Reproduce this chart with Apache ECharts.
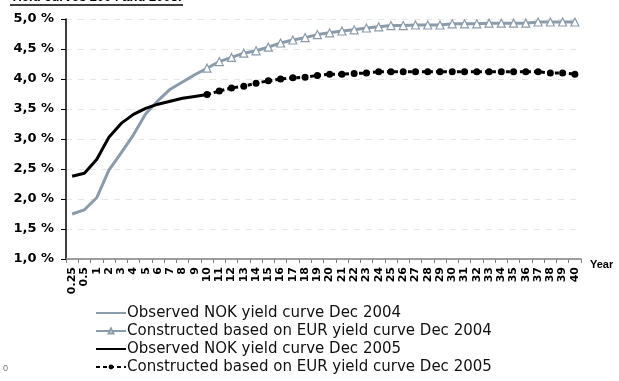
<!DOCTYPE html>
<html>
<head>
<meta charset="utf-8">
<script src="https://cdn.jsdelivr.net/npm/echarts@6/dist/echarts.min.js"></script>
<style>
  html, body { margin: 0; padding: 0; background: #fff; }
  #chart { width: 619px; height: 381px; }
</style>
</head>
<body>
<div id="chart"></div>
<script>
// Maturities (years)
const maturities = ['0.25', '0.5', '1', '2', '3', '4', '5', '6', '7', '8', '9', '10',
  '11', '12', '13', '14', '15', '16', '17', '18', '19', '20', '21', '22', '23', '24', '25',
  '26', '27', '28', '29', '30', '31', '32', '33', '34', '35', '36', '37', '38', '39', '40'];

// Observed NOK yields (%), 0.25y to 10y
const observed2004 = [1.75, 1.82, 2.02, 2.48, 2.77, 3.07, 3.42, 3.64, 3.83, 3.95, 4.07, 4.18];
const observed2005 = [2.38, 2.43, 2.66, 3.03, 3.26, 3.41, 3.51, 3.58, 3.63, 3.68, 3.71, 3.74];

// Constructed from EUR curve (%), 10y to 40y
const constructed2004 = [4.18, 4.29, 4.36, 4.43, 4.47, 4.53, 4.60, 4.65, 4.69, 4.74, 4.77,
  4.80, 4.82, 4.85, 4.87, 4.89, 4.89, 4.90, 4.90, 4.90, 4.92, 4.92, 4.92, 4.93, 4.93,
  4.93, 4.93, 4.95, 4.95, 4.95, 4.95];
const constructed2005 = [3.74, 3.80, 3.85, 3.88, 3.93, 3.97, 4.00, 4.02, 4.03, 4.06, 4.08,
  4.08, 4.09, 4.10, 4.12, 4.12, 4.12, 4.12, 4.12, 4.12, 4.12, 4.12, 4.12, 4.12, 4.12,
  4.12, 4.12, 4.12, 4.10, 4.10, 4.08];

const seriesNames = [
  'Observed NOK yield curve Dec 2004',
  'Constructed based on EUR yield curve Dec 2004',
  'Observed NOK yield curve Dec 2005',
  'Constructed based on EUR yield curve Dec 2005'
];

const GREY = '#8A9CAC';
const n = maturities.length;
const startIdx = maturities.indexOf('10');

function headSeries(vals) {
  const out = new Array(n).fill(null);
  vals.forEach((v, i) => { out[i] = v; });
  return out;
}
function tailSeries(vals) {
  const out = new Array(n).fill(null);
  vals.forEach((v, i) => { out[startIdx + i] = v; });
  return out;
}

const chart = echarts.init(document.getElementById('chart'), null, { renderer: 'canvas' });

chart.setOption({
  animation: false,
  backgroundColor: '#fff',
  grid: { left: 66, right: 38, top: 19, bottom: 122, containLabel: false },
  xAxis: {
    type: 'category',
    data: maturities,
    boundaryGap: true,
    name: 'Year',
    nameLocation: 'end',
    nameGap: 9,
    nameTextStyle: { fontFamily: 'Liberation Sans, Arial', fontWeight: 'bold', fontSize: 11, color: '#000', verticalAlign: 'top' },
    axisLine: { lineStyle: { color: '#808080', width: 1.5 } },
    axisTick: { show: true, alignWithLabel: false, length: 4, lineStyle: { color: '#808080' } },
    axisLabel: {
      interval: 0, rotate: 90, margin: 8,
      fontFamily: 'DejaVu Sans, Verdana', fontWeight: 'bold', fontSize: 11, color: '#000'
    },
    splitLine: { show: false }
  },
  yAxis: {
    type: 'value',
    min: 1, max: 5, interval: 0.5,
    axisLine: { show: true, lineStyle: { color: '#000', width: 1.5 } },
    axisTick: { show: true, length: 5, lineStyle: { color: '#000' } },
    axisLabel: {
      margin: 12,
      fontFamily: 'DejaVu Sans, Verdana', fontWeight: 'bold', fontSize: 13, color: '#000',
      formatter: v => v.toFixed(1).replace('.', ',') + ' %'
    },
    splitLine: { show: true, lineStyle: { color: '#e6e6e6', type: [6, 6], width: 1 } }
  },
  legend: {
    orient: 'vertical',
    left: 95, top: 304, padding: 0,
    itemWidth: 30, itemHeight: 6, itemGap: 0,
    textStyle: { fontFamily: 'DejaVu Sans, Verdana', fontSize: 15, lineHeight: 18, color: '#111', padding: [0, 0, 0, -4] },
    data: [
      { name: seriesNames[0], itemStyle: { opacity: 0 } },
      { name: seriesNames[1] },
      { name: seriesNames[2], itemStyle: { opacity: 0 } },
      { name: seriesNames[3] }
    ]
  },
  series: [
    {
      name: seriesNames[0], type: 'line', data: headSeries(observed2004),
      symbol: 'none',
      lineStyle: { color: GREY, width: 3 }, itemStyle: { color: GREY }
    },
    {
      name: seriesNames[1], type: 'line', data: tailSeries(constructed2004),
      symbol: 'triangle', symbolSize: 8,
      lineStyle: { color: GREY, width: 3 },
      itemStyle: { color: '#fff', borderColor: GREY, borderWidth: 1.2 }
    },
    {
      name: seriesNames[2], type: 'line', data: headSeries(observed2005),
      symbol: 'none',
      lineStyle: { color: '#000', width: 3 }, itemStyle: { color: '#000' }
    },
    {
      name: seriesNames[3], type: 'line', data: tailSeries(constructed2005),
      symbol: 'circle', symbolSize: 7,
      lineStyle: { color: '#000', width: 3, type: [4, 3] },
      itemStyle: { color: '#000' }
    }
  ],
  graphic: [
    {
      type: 'text', left: 10, top: -9,
      style: { text: 'Yield curves 2004 and 2005.', fontFamily: 'Liberation Sans, Arial', fontWeight: 'bold', fontSize: 13, fill: '#000' }
    },
    {
      type: 'line', shape: { x1: 10, y1: 5, x2: 183, y2: 5 },
      style: { stroke: '#000', lineWidth: 1.5 }
    },
    {
      type: 'text', left: 3, top: 364,
      style: { text: '0', fontFamily: 'Liberation Sans, Arial', fontSize: 9, fill: '#777' }
    }
  ]
});
</script>
</body>
</html>
